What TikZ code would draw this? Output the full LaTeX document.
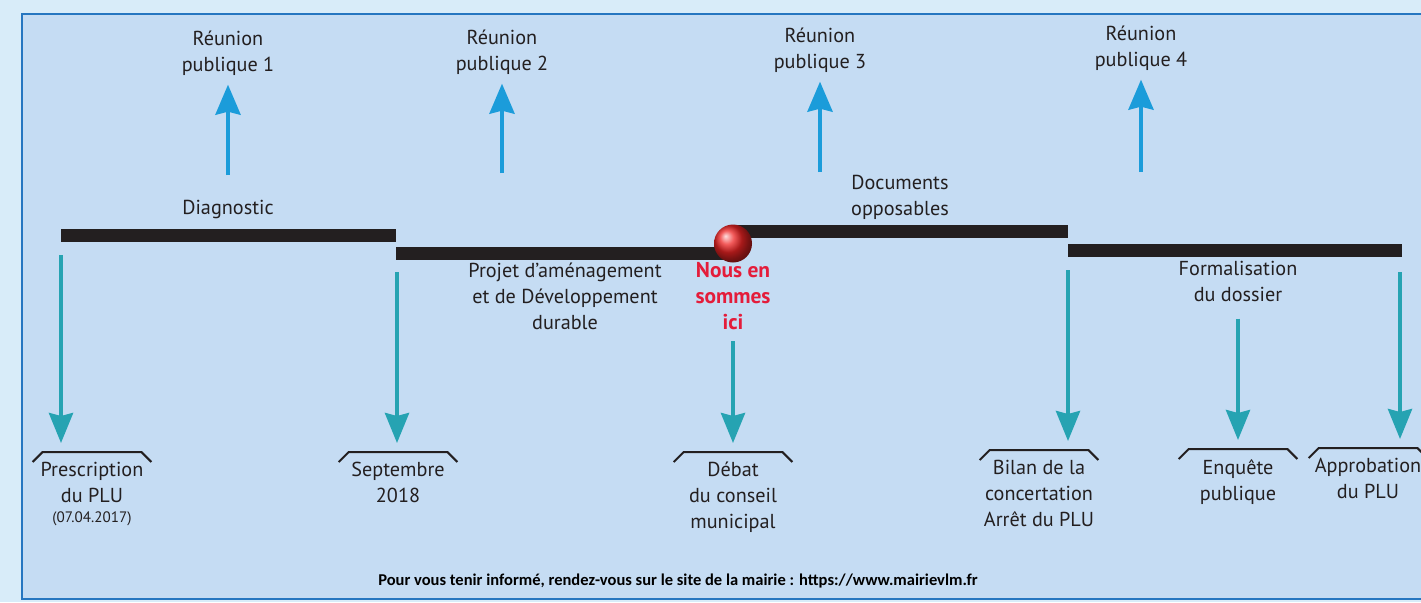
\documentclass[tikz,border=0pt]{standalone}
\usepackage{fontspec}
\setmainfont{PT Sans}
\newfontfamily\piedfont{Carlito}
\usetikzlibrary{positioning}
\usetikzlibrary{calc}
\usetikzlibrary{arrows.meta}
\definecolor{fondext}{RGB}{216,236,249}
\definecolor{fondint}{RGB}{197,220,243}
\definecolor{cadre}{RGB}{38,118,192}
\definecolor{bleuhaut}{RGB}{27,156,218}
\definecolor{bleubas}{RGB}{38,163,178}
\definecolor{rougeici}{RGB}{228,28,58}
\definecolor{rougebille}{RGB}{238,36,36}
\definecolor{encre}{RGB}{35,31,32}

\begin{document}
\begin{tikzpicture}[x=0.2mm, y=-0.2mm,
    texte/.style={align=center, font=\fontsize{11.5}{14.8}\selectfont, text=encre, inner sep=0pt},
    etape/.style={texte, anchor=north, minimum width=23.6mm, inner ysep=2mm},
    flechehaut/.style={draw=bleuhaut, line width=0.8mm, -{Stealth[length=6mm,width=5mm,inset=0.6mm]}},
    flechebas/.style={draw=bleubas, line width=0.8mm, -{Stealth[length=6mm,width=4.8mm,inset=0.6mm]}, shorten >=1.8mm},
    barre/.style={draw=encre, line width=2.6mm},
    crochet/.style={draw=encre, line width=0.4mm}]
        \useasboundingbox (0,0) rectangle (1421,602);
        % Fond et cadre
        \fill[fondext] (0,0) rectangle (1421,602);
        \draw[cadre, fill=fondint, line width=0.5mm] (22,14) rectangle (1440,599);

        % Réunions publiques
        \node[texte] (r1) at (228,53) {Réunion\\publique 1};
        \node[texte] (r2) at (502,52) {Réunion\\publique 2};
        \node[texte] (r3) at (820,50) {Réunion\\publique 3};
        \node[texte] (r4) at (1141,48) {Réunion\\publique 4};
        \coordinate (r1b) at (228,175);
        \coordinate (r2b) at (502,173);
        \coordinate (r3b) at (820,172);
        \coordinate (r4b) at (1141,172);
        \foreach \r in {r1,r2,r3,r4}
        {
        \draw[flechehaut, shorten >=1.8mm] (\r b) -- (\r b |- \r.south);
        }

        % Phases
        \draw[barre] (61,235.5) -- (396,235.5);
        \draw[barre] (396,253.5) -- (730,253.5);
        \draw[barre] (736,231.5) -- (1068,231.5);
        \draw[barre] (1068,250) -- (1402,250);
        \node[texte] (diag) at (228,209) {Diagnostic};
        \node[texte] (padd) at (565,296) {Projet d’aménagement\\et de Développement\\durable};
        \node[texte] (docs) at (900,197) {Documents\\opposables};
        \node[texte] (formal) at (1238,281) {Formalisation\\du dossier};

        % Nous en sommes ici
        \node[circle, shade, ball color=rougebille, minimum size=7.6mm, inner sep=0pt] (bille) at (733,243.5) {};
        \node[texte, text=rougeici, font=\fontsize{12.2}{14.8}\selectfont\bfseries] (ici) at (733,296) {Nous en\\sommes\\ici};

        % Etapes
        \node[etape] (presc) at (92,452) {Prescription\\du PLU\\[-1.2mm]{\fontsize{8.6}{10}\selectfont (07.04.2017)}};
        \node[etape] (sept) at (398,452) {Septembre\\2018};
        \node[etape] (debat) at (733,452) {Débat\\du conseil\\municipal};
        \node[etape] (bilan) at (1039,450) {Bilan de la\\concertation\\Arrêt du PLU};
        \node[etape] (enquete) at (1238,449) {Enquête\\publique};
        \node[etape] (appro) at (1368,448) {Approbation\\du PLU};
        \foreach \e in {presc,sept,debat,bilan,enquete,appro}
        {
        \draw[crochet] ([yshift=-2mm]\e.north west) -- ([xshift=2mm]\e.north west) -- ([xshift=-2mm]\e.north east) -- ([yshift=-2mm]\e.north east);
        }

        \coordinate (presc0) at (61,255);
        \coordinate (sept0) at (397,272);
        \coordinate (bilan0) at (1068,270);
        \coordinate (appro0) at (1400,272);
        \draw[flechebas] (presc0) -- (presc0 |- presc.north);
        \draw[flechebas] (sept0) -- (sept0 |- sept.north);
        \draw[flechebas, shorten <=2.2mm] (ici) -- (debat);
        \draw[flechebas] (bilan0) -- (bilan0 |- bilan.north);
        \draw[flechebas, shorten <=3.4mm] (formal) -- (enquete);
        \draw[flechebas] (appro0) -- (appro0 |- appro.north);

        \node[texte, text=black, font=\piedfont\bfseries\fontsize{9.4}{11}\selectfont] (pied) at (678,581) {Pour vous tenir informé, rendez-vous sur le site de la mairie : https://www.mairievlm.fr};
    \end{tikzpicture}
\end{document}
